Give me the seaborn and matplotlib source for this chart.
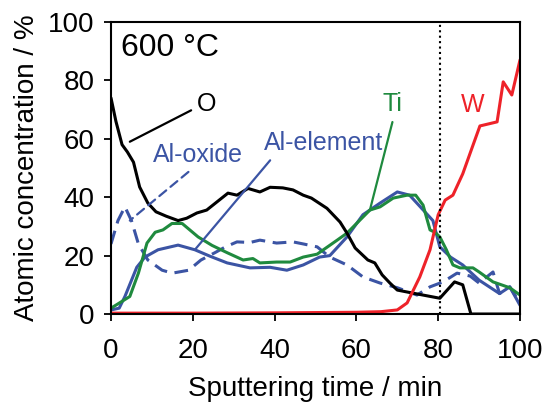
import numpy as np
import pandas as pd
import matplotlib
matplotlib.use("Agg")
import matplotlib.pyplot as plt
import seaborn as sns

# depth profile at 600 C
x_o = [0, 1.2, 2.7, 4, 5.5, 7, 9, 11, 13.5, 16.4, 18.5, 21, 23.4, 26, 28.6, 30.8, 33.5,
       36.4, 38.9, 42, 44.5, 47, 49, 52.8, 56, 57.7, 59.7, 62.8, 64.5, 66.3, 68.2,
       70, 74, 80.4, 84, 86, 88, 100]
y_o = [74, 66, 58, 55.5, 52, 43.5, 38, 35, 33.5, 32, 32.8, 34.6, 35.6, 38.5, 41.4, 40.7, 43,
       41.8, 43.4, 43.2, 42.5, 40.7, 39.7, 36.2, 31.5, 27.7, 22.6, 18.5, 17.5, 13.4, 10.6,
       8.2, 7.1, 5.4, 11, 10, 0, 0]

x_ox = [0, 1.7, 3.4, 5, 6.7, 9, 12.5, 15, 19, 22, 25.4, 28, 30.8, 34, 36.4, 40.5, 44.5,
        47, 50.4, 53.5, 57.7, 61.6, 65.8, 70, 74.8, 78, 81.2, 84.6, 87.8, 90, 93.4, 95,
        97.5, 100]
y_ox = [24, 32, 36.7, 32, 24, 18.5, 15, 14, 15, 18.5, 21, 23, 24.7, 24.5, 25.3, 24.3, 24.7,
        24, 23, 19.5, 16.8, 12.7, 10.6, 9, 6.5, 9.3, 11, 14, 13, 10.6, 14.4, 7,
        9.3, 3.8]

x_el = [0, 2, 3.4, 6.3, 8.3, 11.5, 16.4, 20.5, 24.2, 28.4, 34, 38.9, 43, 47, 51, 53.5,
        57.7, 61.6, 65.8, 70, 73, 77, 78.7, 80.4, 83, 86, 90, 95, 97.5, 100]
y_el = [1.4, 2, 6, 16, 19.5, 22, 23.6, 22, 19.8, 17.5, 15.8, 16, 15, 16.8, 19.5, 20,
        26.4, 34, 38, 41.8, 40.7, 34.6, 32, 23, 19.5, 16.8, 11.6, 7, 9.3, 3]

x_ti = [0, 4.6, 6.7, 8.8, 10.8, 12.7, 14.9, 17.4, 21.3, 24.7, 28.4, 32.3, 34.7, 36.4,
        40.5, 43.8, 47, 50.4, 55.3, 57.7, 63.3, 65.8, 69, 72.4, 74.5, 76.3, 78, 79.2,
        80.4, 82, 83.6, 85.3, 88.5, 90, 93.4, 97.5, 100]
y_ti = [2, 6, 14, 24.3, 28, 28.8, 31, 31, 26.4, 23.5, 21, 18.5, 19, 17.5,
        17.8, 17.8, 19.5, 20.5, 25.3, 27.7, 35.6, 36.7, 39.7, 40.7, 40.7, 37.3, 28.8, 28,
        26.4, 22, 16.8, 15.8, 15.8, 14.4, 11, 9, 6.5]

x_w = [0, 20, 40, 60, 66, 70, 72.4, 75.5, 78, 80, 81.7, 83.6, 86, 88.3, 90.2, 94.4,
       95.9, 98, 100]
y_w = [0.3, 0.3, 0.4, 0.6, 0.8, 1.4, 3.8, 12.7, 22, 34, 39, 40.7, 48, 57, 64.4, 65.8,
       79.5, 75, 87]

interface_x = 80.5

C_BLUE = "#3b54a4"
C_GREEN = "#1f8a3e"
C_RED = "#ee2229"

sns.set_theme(style="ticks")
plt.rcParams["font.family"] = ["Liberation Sans", "DejaVu Sans"]
plt.rcParams["text.color"] = "black"
plt.rcParams["axes.labelcolor"] = "black"

fig = plt.figure(figsize=(5.42, 4.03), dpi=100)
ax = fig.add_axes([0.2048, 0.2208, 0.7546, 0.7246])

kw = dict(ax=ax, estimator=None, sort=False, legend=False, linewidth=2.2)
sns.lineplot(x=x_el, y=y_el, color=C_BLUE, **kw)
sns.lineplot(x=x_ox, y=y_ox, color=C_BLUE, **kw)
ax.lines[-1].set_dashes([4.5, 2.5])
sns.lineplot(x=x_ti, y=y_ti, color=C_GREEN, **kw)
sns.lineplot(x=x_o, y=y_o, color="black", **kw)
sns.lineplot(x=x_w, y=y_w, color=C_RED, **kw)

ax.axvline(interface_x, color="black", linewidth=1.5, linestyle=(0, (1, 1.6)))

ax.set_xlim(0, 100)
ax.set_ylim(0, 100)
ax.set_xticks([0, 20, 40, 60, 80, 100])
ax.set_yticks([0, 20, 40, 60, 80, 100])
ax.tick_params(direction="out", length=5, width=1.3, labelsize=20, pad=7,
               colors="black", labelcolor="black")
ax.tick_params(axis="x", pad=12)
for s in ax.spines.values():
    s.set_linewidth(1.5)
    s.set_color("black")
ax.set_xlabel("Sputtering time / min", fontsize=20, labelpad=9)
ax.set_ylabel("Atomic concentration / %", fontsize=20, labelpad=6)

ax.text(2.5, 91, "600 °C", fontsize=23, va="center", ha="left")

line = dict(arrowstyle="-", linewidth=1.6, shrinkA=2, shrinkB=0)
ax.annotate("O", xy=(4.6, 59), xytext=(21, 72), fontsize=18, ha="left", va="center",
            arrowprops=dict(color="black", relpos=(0, 0.35), **line))
ax.annotate("Al-oxide", xy=(4.6, 32), xytext=(10.3, 54.5), fontsize=18, color=C_BLUE,
            ha="left", va="center",
            arrowprops=dict(color=C_BLUE, relpos=(0.46, 0), linestyle=(0, (4, 2.5)), **line))
ax.annotate("Al-element", xy=(20.5, 22), xytext=(37.4, 58.6), fontsize=18, color=C_BLUE,
            ha="left", va="center",
            arrowprops=dict(color=C_BLUE, relpos=(0.09, 0), **line))
ax.annotate("Ti", xy=(63.3, 35.6), xytext=(68.7, 71.9), fontsize=18, color=C_GREEN,
            ha="center", va="center",
            arrowprops=dict(color=C_GREEN, relpos=(0.6, 0), **line))
ax.text(88.5, 71.5, "W", fontsize=18, color=C_RED, ha="center", va="center")

fig.savefig("out.png", dpi=100)
